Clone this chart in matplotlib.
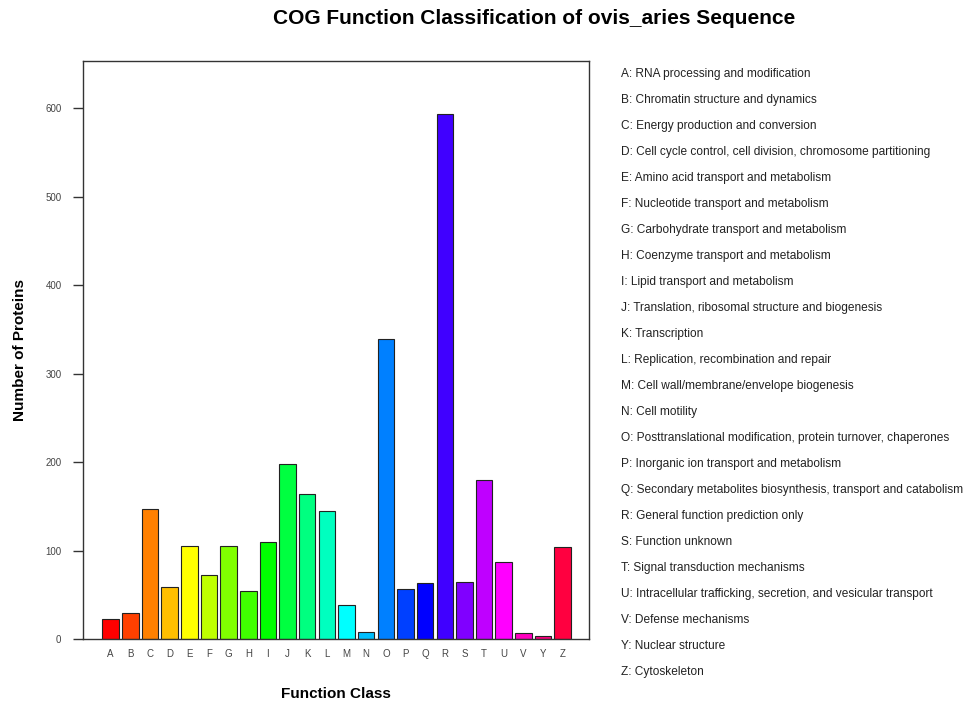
import colorsys
import matplotlib
matplotlib.use("Agg")
import matplotlib.pyplot as plt

plt.rcParams['font.family'] = ['Liberation Sans', 'DejaVu Sans']

# COG classes and protein counts
classes = ['A', 'B', 'C', 'D', 'E', 'F', 'G', 'H', 'I', 'J', 'K', 'L', 'M',
           'N', 'O', 'P', 'Q', 'R', 'S', 'T', 'U', 'V', 'Y', 'Z']
counts = [23, 29, 147, 59, 105, 72, 105, 54, 110, 198, 164, 145, 38,
          8, 339, 56, 63, 594, 65, 180, 87, 7, 3, 104]
descriptions = [
    "RNA processing and modification",
    "Chromatin structure and dynamics",
    "Energy production and conversion",
    "Cell cycle control, cell division, chromosome partitioning",
    "Amino acid transport and metabolism",
    "Nucleotide transport and metabolism",
    "Carbohydrate transport and metabolism",
    "Coenzyme transport and metabolism",
    "Lipid transport and metabolism",
    "Translation, ribosomal structure and biogenesis",
    "Transcription",
    "Replication, recombination and repair",
    "Cell wall/membrane/envelope biogenesis",
    "Cell motility",
    "Posttranslational modification, protein turnover, chaperones",
    "Inorganic ion transport and metabolism",
    "Secondary metabolites biosynthesis, transport and catabolism",
    "General function prediction only",
    "Function unknown",
    "Signal transduction mechanisms",
    "Intracellular trafficking, secretion, and vesicular transport",
    "Defense mechanisms",
    "Nuclear structure",
    "Cytoskeleton",
]
yticks = [0, 100, 200, 300, 400, 500, 600]

W, H = 968, 702
n = len(classes)
# rainbow palette, one hue per class (like R's rainbow(n))
colors = [colorsys.hsv_to_rgb(i / n, 1, 1) for i in range(n)]

fig = plt.figure(figsize=(W / 100, H / 100), dpi=100)
ax = fig.add_axes([83 / W, 1 - 639 / H, (589 - 83) / W, (639 - 61) / H])

x = list(range(n))
ax.bar(x, counts, width=0.84, color=colors, edgecolor='#222222', linewidth=0.8)

ax.set_xlim(-1.41, n - 1 + 1.34)
ax.set_ylim(0, 653.5)
ax.set_xticks(x)
ax.set_xticklabels(classes, fontsize=7, color='#444444')
ax.tick_params(axis='x', length=0, pad=7)
ax.set_yticks(yticks)
ax.set_yticklabels([str(v) for v in yticks], fontsize=7, color='#444444')
ax.tick_params(axis='y', length=7.5, width=1, color='#333333', pad=8)
for s in ax.spines.values():
    s.set_color('#333333')
    s.set_linewidth(1)

fig.text(534 / W, 1 - 19 / H, "COG Function Classification of ovis_aries Sequence",
         ha='center', va='center', fontsize=15, fontweight='bold')
fig.text(336 / W, 1 - 694 / H, "Function Class", ha='center', va='center',
         fontsize=11, fontweight='bold')
fig.text(20 / W, 1 - 350 / H, "Number of Proteins", ha='center', va='center',
         rotation=90, fontsize=11, fontweight='bold')

# class descriptions down the right side
for i, (c, d) in enumerate(zip(classes, descriptions)):
    y = 74 + i * (672 - 74) / (n - 1)
    fig.text(621 / W, 1 - y / H, f"{c}: {d}", ha='left', va='center',
             fontsize=8.6, color='#222222')

fig.savefig("out.png", dpi=100)
